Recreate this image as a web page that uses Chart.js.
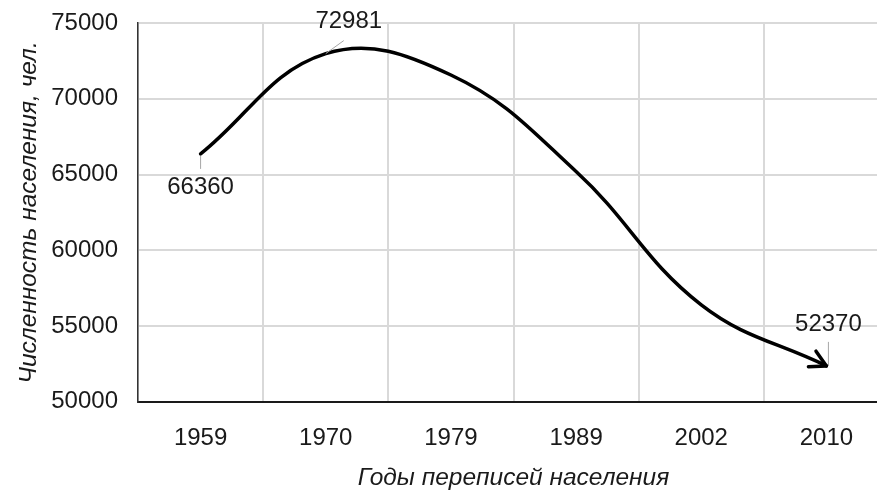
<!DOCTYPE html>
<html>
<head>
<meta charset="utf-8">
<script src="https://cdn.jsdelivr.net/npm/chart.js@4/dist/chart.umd.min.js"></script>
<style>
  html, body { margin: 0; padding: 0; background: #fff; overflow: hidden; }
  #wrap { width: 889px; height: 497px; }
</style>
</head>
<body>
<div id="wrap"><canvas id="chart"></canvas></div>
<script>
const years = ['1959', '1970', '1979', '1989', '2002', '2010'];
const population = [66360, 72981, 71570, 65200, 56400, 52370];
const labelledPoints = [0, 1, 5];
const yTitle = 'Численность населения, чел.';
const xTitle = 'Годы переписей населения';

const FONT = '"Liberation Sans", Arial, sans-serif';

// value labels with small grey leader lines + arrow head at the end of the line
const annotate = {
  id: 'annotate',
  afterDatasetsDraw(chart){
    const ctx = chart.ctx;
    const pts = chart.getDatasetMeta(0).data;
    // where each label sits relative to its point
    const place = {
      0: { tx: 0, ty: 33, l: [[0, 2], [0, 15]] },
      1: { tx: 23, ty: -32, l: [[0, 0], [18, -13]] },
      5: { tx: 2, ty: -42, l: [[2, -24], [2, 0]] }
    };
    ctx.save();
    ctx.font = '24px ' + FONT;
    ctx.textAlign = 'center';
    ctx.textBaseline = 'middle';
    labelledPoints.forEach(i => {
      const p = pts[i], o = place[i];
      ctx.strokeStyle = '#a6a6a6';
      ctx.lineWidth = 1;
      ctx.beginPath();
      ctx.moveTo(p.x + o.l[0][0], p.y + o.l[0][1]);
      ctx.lineTo(p.x + o.l[1][0], p.y + o.l[1][1]);
      ctx.stroke();
      ctx.fillStyle = '#1a1a1a';
      ctx.fillText(String(population[i]), p.x + o.tx, p.y + o.ty);
    });
    // arrow head
    const last = pts[pts.length - 1];
    const ang = Math.atan2(last.y - last.cp1y, last.x - last.cp1x);
    const len = 18, spread = 0.5;
    ctx.strokeStyle = '#000';
    ctx.lineWidth = 3.5;
    ctx.lineCap = 'round';
    ctx.lineJoin = 'round';
    ctx.beginPath();
    ctx.moveTo(last.x - len * Math.cos(ang - spread), last.y - len * Math.sin(ang - spread));
    ctx.lineTo(last.x, last.y);
    ctx.lineTo(last.x - len * Math.cos(ang + spread), last.y - len * Math.sin(ang + spread));
    ctx.stroke();
    ctx.restore();
  }
};

new Chart(document.getElementById('chart'), {
  type: 'line',
  data: {
    labels: years,
    datasets: [{
      data: population,
      borderColor: '#000',
      borderWidth: 3.5,
      borderCapStyle: 'round',
      tension: 0.4,
      pointRadius: 0,
      fill: false
    }]
  },
  options: {
    responsive: true,
    maintainAspectRatio: false,
    animation: false,
    layout: { padding: { left: 14, top: 0, right: 0, bottom: 4 } },
    plugins: { legend: { display: false }, tooltip: { enabled: false } },
    scales: {
      x: {
        offset: true,
        grid: { offset: true, color: '#d9d9d9', lineWidth: 2, drawTicks: false },
        border: { color: '#1a1a1a', width: 2 },
        ticks: { color: '#1a1a1a', padding: 22, font: { family: FONT, size: 24 } },
        title: { display: true, text: xTitle, color: '#1a1a1a', padding: { top: -11, bottom: 0 },
                 font: { family: FONT, size: 24.5, style: 'italic' } }
      },
      y: {
        min: 50000, max: 75000,
        afterFit(scale){ scale.width = 124; scale.paddingTop = 23; scale.paddingBottom = 0; },
        grid: { color: '#d9d9d9', lineWidth: 2, drawTicks: false },
        border: { color: '#333', width: 1.5 },
        ticks: { stepSize: 5000, color: '#1a1a1a', padding: 20, font: { family: FONT, size: 24 },
                 callback: v => String(v) },
        title: { display: true, text: yTitle, color: '#1a1a1a', padding: { top: 0, bottom: 6 },
                 font: { family: FONT, size: 24.5, style: 'italic' } }
      }
    }
  },
  plugins: [annotate]
});
</script>
</body>
</html>
